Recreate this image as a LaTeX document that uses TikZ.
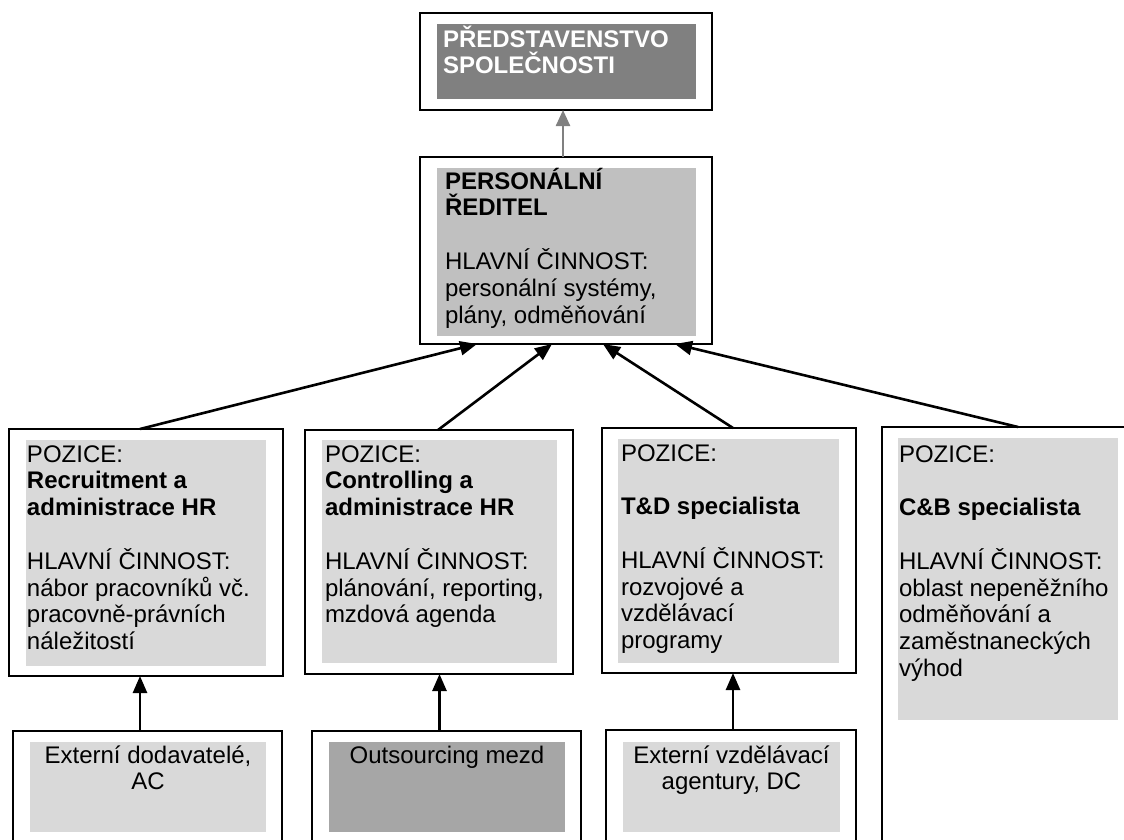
\documentclass[tikz,border=0pt]{standalone}
\usepackage{fontspec}
\setmainfont{Liberation Sans}
\usetikzlibrary{arrows.meta}
\definecolor{gTop}{HTML}{808080}
\definecolor{gDir}{HTML}{C0C0C0}
\definecolor{gLight}{HTML}{D9D9D9}
\definecolor{gMid}{HTML}{A6A6A6}
\newcommand{\gapline}{\\[26.8pt]}
\begin{document}
\begin{tikzpicture}[x=1pt,y=-1pt,
  outerbox/.style={draw=black, line width=2.3pt, fill=white, anchor=north west, inner sep=0pt, outer sep=0pt},
  graybox/.style={anchor=north west, inner sep=0pt, outer sep=0pt},
  txt/.style={anchor=base west, inner sep=0pt, outer sep=0pt, font=\fontsize{24}{26.8}\selectfont},
  arr/.style={line width=2.6pt, -{Triangle[length=17pt,width=14pt]}},
  grayarr/.style={line width=2.4pt, draw=gTop, -{Triangle[length=16pt,width=14pt]}, gTop}
]
\useasboundingbox (0,0) rectangle (1124,839);
\clip (0,0) rectangle (1124,839);

% top box
\node[outerbox, minimum width=292pt, minimum height=97pt] (top) at (420,13) {};
\node[graybox, fill=gTop, minimum width=259pt, minimum height=75pt] (topg) at (437,24) {};
\node[txt, text=white] (topt) at (443,47) {\parbox[t]{300pt}{\bfseries PŘEDSTAVENSTVO\\SPOLEČNOSTI}};

% director
\node[outerbox, minimum width=292pt, minimum height=187pt] (dir) at (420,157) {};
\node[graybox, fill=gDir, minimum width=259pt, minimum height=168pt] (dirg) at (437,168) {};
\node[txt] (dirt) at (445,189) {\parbox[t]{300pt}{\textbf{PERSONÁLNÍ}\\\textbf{ŘEDITEL}\gapline HLAVNÍ ČINNOST:\\personální systémy,\\plány, odměňování}};

% row 3
\node[outerbox, minimum width=274pt, minimum height=247pt] (r1) at (9,429) {};
\node[graybox, fill=gLight, minimum width=240pt, minimum height=226pt] (r1g) at (26,440) {};
\node[txt] (r1t) at (27,462) {\parbox[t]{300pt}{POZICE:\\\textbf{Recruitment a}\\\textbf{administrace HR}\gapline HLAVNÍ ČINNOST:\\nábor pracovníků vč.\\pracovně-právních\\náležitostí}};

\node[outerbox, minimum width=268pt, minimum height=244pt] (r2) at (305,430) {};
\node[graybox, fill=gLight, minimum width=235pt, minimum height=223pt] (r2g) at (322,440) {};
\node[txt] (r2t) at (325,462) {\parbox[t]{300pt}{POZICE:\\\textbf{Controlling a}\\\textbf{administrace HR}\gapline HLAVNÍ ČINNOST:\\plánování, reporting,\\mzdová agenda}};

\node[outerbox, minimum width=254pt, minimum height=245pt] (r3) at (602,428) {};
\node[graybox, fill=gLight, minimum width=221pt, minimum height=224pt] (r3g) at (618,439) {};
\node[txt] (r3t) at (621,461) {\parbox[t]{300pt}{POZICE:\gapline\textbf{T\&D specialista}\gapline HLAVNÍ ČINNOST:\\rozvojové a\\vzdělávací\\programy}};

\node[outerbox, minimum width=260pt, minimum height=450pt] (r4) at (882,427) {};
\node[graybox, fill=gLight, minimum width=220pt, minimum height=282pt] (r4g) at (898,438) {};
\node[txt] (r4t) at (899,462) {\parbox[t]{300pt}{POZICE:\gapline\textbf{C\&B specialista}\gapline HLAVNÍ ČINNOST:\\oblast nepeněžního\\odměňování a\\zaměstnaneckých\\výhod}};

% bottom row
\node[outerbox, minimum width=269pt, minimum height=200pt] (bA) at (13,731) {};
\node[graybox, fill=gLight, minimum width=236pt, minimum height=90pt] (bAg) at (30,742) {};
\node[txt] (bAt) at (30,763) {\parbox[t]{236pt}{\centering Externí dodavatelé,\\AC}};

\node[outerbox, minimum width=269pt, minimum height=200pt] (bB) at (312,731) {};
\node[graybox, fill=gMid, minimum width=236pt, minimum height=90pt] (bBg) at (329,742) {};
\node[txt] (bBt) at (329,763) {\parbox[t]{236pt}{\centering Outsourcing mezd}};

\node[outerbox, minimum width=250pt, minimum height=200pt] (bC) at (606,730) {};
\node[graybox, fill=gLight, minimum width=217pt, minimum height=90pt] (bCg) at (623,742) {};
\node[txt] (bCt) at (623,763) {\parbox[t]{217pt}{\centering Externí vzdělávací\\agentury, DC}};

% connectors
\coordinate (ct) at ([xshift=-3pt]dir.north);
\draw[grayarr] (ct) -- (ct |- top.south);

\draw[arr] ([xshift=-6pt]r1.north) -- ([xshift=-89pt]dir.south);
\draw[arr] ([xshift=-1pt]r2.north) -- ([xshift=-14pt]dir.south);
\draw[arr] ([xshift=4pt]r3.north) -- ([xshift=37pt]dir.south);
\draw[arr] ([xshift=6pt]r4.north) -- ([xshift=109pt]dir.south);

\coordinate (ca) at ([xshift=-7.5pt]bA.north);
\draw[arr] (ca) -- (ca |- r1.south);
\coordinate (cb) at ([xshift=-7pt]bB.north);
\draw[arr] (cb) -- (cb |- r2.south);
\coordinate (cc) at ([xshift=2pt]bC.north);
\draw[arr] (cc) -- (cc |- r3.south);
\end{tikzpicture}
\end{document}
